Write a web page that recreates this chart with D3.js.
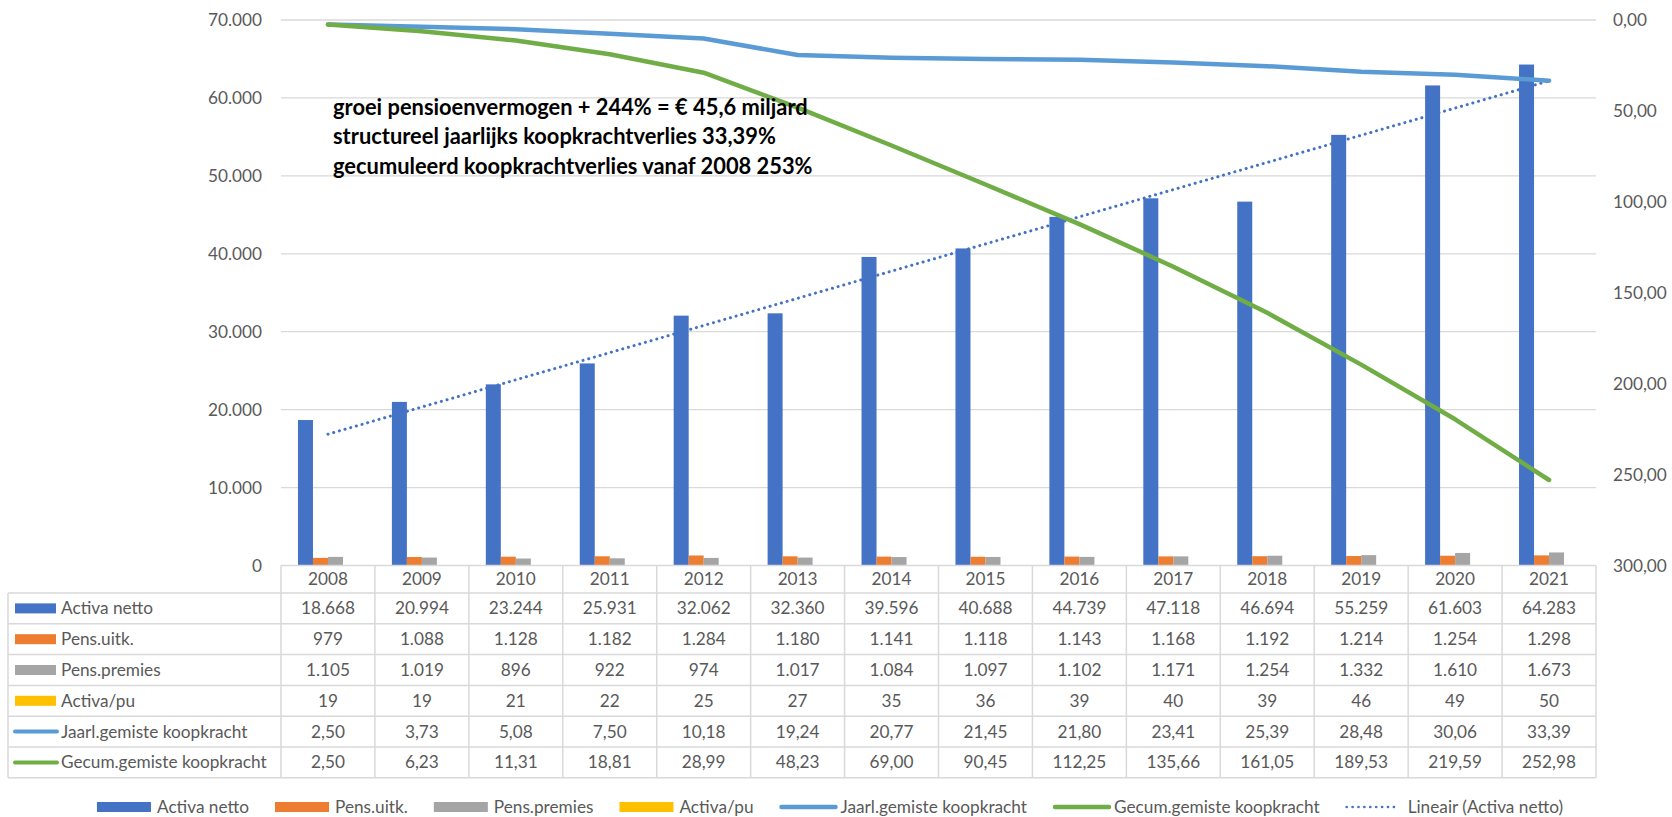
<!DOCTYPE html>
<html><head><meta charset="utf-8">
<script src="https://cdn.jsdelivr.net/npm/d3@7"></script>
<style>body{margin:0;background:#fff}</style>
</head><body><svg id="c" width="1672" height="817"></svg>
<script>
const years = [2008,2009,2010,2011,2012,2013,2014,2015,2016,2017,2018,2019,2020,2021];
const activaNetto = [18668,20994,23244,25931,32062,32360,39596,40688,44739,47118,46694,55259,61603,64283];
const pensUitk = [979,1088,1128,1182,1284,1180,1141,1118,1143,1168,1192,1214,1254,1298];
const pensPremies = [1105,1019,896,922,974,1017,1084,1097,1102,1171,1254,1332,1610,1673];
const activaPu = [19,19,21,22,25,27,35,36,39,40,39,46,49,50];
const jaarlKoopkracht = [2.50,3.73,5.08,7.50,10.18,19.24,20.77,21.45,21.80,23.41,25.39,28.48,30.06,33.39];
const gecumKoopkracht = [2.50,6.23,11.31,18.81,28.99,48.23,69.00,90.45,112.25,135.66,161.05,189.53,219.59,252.98];
const leftTicks = [0,10000,20000,30000,40000,50000,60000,70000];
const rightTicks = [0,50,100,150,200,250,300];
const annotation = [
  "groei pensioenvermogen + 244% = € 45,6 miljard",
  "structureel jaarlijks koopkrachtverlies 33,39%",
  "gecumuleerd koopkrachtverlies vanaf 2008 253%"
];
const seriesNames = ["Activa netto","Pens.uitk.","Pens.premies","Activa/pu","Jaarl.gemiste koopkracht","Gecum.gemiste koopkracht","Lineair (Activa netto)"];
const colors = ["#4472C4","#ED7D31","#A5A5A5","#FFC000","#5B9BD5","#70AD47","#4472C4"];

const nl = d3.formatLocale({decimal:",", thousands:".", grouping:[3], currency:["€",""]});
const fInt = nl.format(",d"), f2 = nl.format(",.2f");

const svg = d3.select("#c");
const F = "Lato, 'Open Sans', sans-serif";
const TXT = "#595959";
function fit(str, target, weight){
  const t = svg.append("text").attr("font-family",F).attr("font-weight",weight).attr("font-size",100).text(str);
  const w = t.node().getComputedTextLength(); t.remove(); return 100*target/w;
}
const fs = (fit("Gecum.gemiste koopkracht",213,400) + fit("2008",38.6,400))/2;
const fsB = fit(annotation[1],443,700);

const x = d3.scaleBand().domain(years).range([281,1596]);
const bw = x.bandwidth();
const xc = y => x(y) + bw/2;
const barKeys = [0,1,2,3];
const xs = d3.scaleBand().domain(barKeys).range([(bw-60)/2,(bw+60)/2]);
const yL = d3.scaleLinear().domain([0,70000]).range([565.5,20]);
const yR = d3.scaleLinear().domain([0,300]).range([20,565.5]);

// gridlines
svg.append("g").selectAll("line").data(leftTicks.slice(1)).join("line")
  .attr("x1",281).attr("x2",1596).attr("y1",d=>yL(d)).attr("y2",d=>yL(d))
  .attr("stroke","#D9D9D9").attr("stroke-width",1.3);

// axis labels
svg.append("g").selectAll("text").data(leftTicks).join("text")
  .attr("x",262).attr("y",d=>yL(d)).attr("dy","0.35em").attr("text-anchor","end")
  .attr("font-family",F).attr("font-size",fs).attr("fill",TXT).text(d=>fInt(d));
svg.append("g").selectAll("text").data(rightTicks).join("text")
  .attr("x",1613).attr("y",d=>yR(d)).attr("dy","0.35em").attr("text-anchor","start")
  .attr("font-family",F).attr("font-size",fs).attr("fill",TXT).text(d=>f2(d));

// bars
const barSeries = [activaNetto,pensUitk,pensPremies,activaPu];
barSeries.forEach((arr,k)=>{
  svg.append("g").selectAll("rect").data(years).join("rect")
    .attr("x",(d)=>x(d)+xs(k)).attr("width",xs.bandwidth())
    .attr("y",(d,i)=>yL(arr[i])).attr("height",(d,i)=>yL(0)-yL(arr[i]))
    .attr("fill",colors[k]);
});

// trendline (least squares of Activa netto)
const idx = years.map((d,i)=>i+1);
const mx = d3.mean(idx), my = d3.mean(activaNetto);
const slope = d3.sum(idx,(v,i)=>(v-mx)*(activaNetto[i]-my))/d3.sum(idx,v=>(v-mx)*(v-mx));
const icpt = my - slope*mx;
const trend = [years[0],years[years.length-1]].map((yv)=>({yr:yv,v:icpt+slope*(years.indexOf(yv)+1)}));
svg.append("path").datum(trend)
  .attr("d",d3.line().x(d=>xc(d.yr)).y(d=>yL(d.v)))
  .attr("fill","none").attr("stroke",colors[6]).attr("stroke-width",3)
  .attr("stroke-linecap","round").attr("stroke-dasharray","0.1 5.8");

// lines
const line = d3.line().x((d,i)=>xc(years[i])).y(d=>yR(d));
[[jaarlKoopkracht,4],[gecumKoopkracht,5]].forEach(([arr,k])=>{
  svg.append("path").datum(arr).attr("d",line).attr("fill","none")
    .attr("stroke",colors[k]).attr("stroke-width",4.5)
    .attr("stroke-linejoin","round").attr("stroke-linecap","round");
});

// annotation
svg.append("g").selectAll("text").data(annotation).join("text")
  .attr("x",333).attr("y",(d,i)=>107+i*29.5).attr("dy","0.35em")
  .attr("font-family",F).attr("font-weight",700).attr("font-size",fsB).attr("fill","#000").text(d=>d);

// data table
const tTop = 565.5, hBot = 593, rowH = 30.8, tLeft = 8, tRight = 1596;
const rows = [
  {name:seriesNames[0], vals:activaNetto.map(fInt), type:"rect", c:colors[0]},
  {name:seriesNames[1], vals:pensUitk.map(fInt), type:"rect", c:colors[1]},
  {name:seriesNames[2], vals:pensPremies.map(fInt), type:"rect", c:colors[2]},
  {name:seriesNames[3], vals:activaPu.map(fInt), type:"rect", c:colors[3]},
  {name:seriesNames[4], vals:jaarlKoopkracht.map(f2), type:"line", c:colors[4]},
  {name:seriesNames[5], vals:gecumKoopkracht.map(f2), type:"line", c:colors[5]}
];
const tBot = hBot + rows.length*rowH;
const tg = svg.append("g");
const bc = "#D9D9D9", bwid = 1.5;
tg.append("line").attr("x1",281).attr("x2",tRight).attr("y1",tTop).attr("y2",tTop).attr("stroke",bc).attr("stroke-width",bwid);
d3.range(rows.length+1).forEach(i=>{
  const yy = hBot + i*rowH;
  tg.append("line").attr("x1",tLeft).attr("x2",tRight).attr("y1",yy).attr("y2",yy).attr("stroke",bc).attr("stroke-width",bwid);
});
years.forEach(yv=>{
  tg.append("line").attr("x1",x(yv)).attr("x2",x(yv)).attr("y1",tTop).attr("y2",tBot).attr("stroke",bc).attr("stroke-width",bwid);
});
tg.append("line").attr("x1",tRight).attr("x2",tRight).attr("y1",tTop).attr("y2",tBot).attr("stroke",bc).attr("stroke-width",bwid);
tg.append("line").attr("x1",tLeft).attr("x2",tLeft).attr("y1",hBot).attr("y2",tBot).attr("stroke",bc).attr("stroke-width",bwid);
tg.selectAll("text.h").data(years).join("text").attr("class","h")
  .attr("x",d=>xc(d)).attr("y",(tTop+hBot)/2).attr("dy","0.35em").attr("text-anchor","middle")
  .attr("font-family",F).attr("font-size",fs).attr("fill",TXT).text(d=>d);
rows.forEach((r,ri)=>{
  const cy = hBot + ri*rowH + rowH/2;
  if(r.type==="rect") tg.append("rect").attr("x",15).attr("y",cy-5).attr("width",41).attr("height",10).attr("fill",r.c);
  else tg.append("line").attr("x1",15).attr("x2",57).attr("y1",cy).attr("y2",cy).attr("stroke",r.c).attr("stroke-width",4).attr("stroke-linecap","round");
  tg.append("text").attr("x",61).attr("y",cy).attr("dy","0.35em").attr("font-family",F).attr("font-size",fs).attr("fill",TXT).text(r.name);
  r.vals.forEach((v,i)=>{
    tg.append("text").attr("x",xc(years[i])).attr("y",cy).attr("dy","0.35em").attr("text-anchor","middle")
      .attr("font-family",F).attr("font-size",fs).attr("fill",TXT).text(v);
  });
});

// legend
const lg = svg.append("g");
const ly = 807;
const types = ["rect","rect","rect","rect","line","line","dot"];
let cx = 0;
seriesNames.forEach((n,i)=>{
  const g = lg.append("g");
  if(types[i]==="rect") g.append("rect").attr("x",0).attr("y",ly-5).attr("width",54).attr("height",10).attr("fill",colors[i]);
  else if(types[i]==="line") g.append("line").attr("x1",2).attr("x2",56).attr("y1",ly).attr("y2",ly).attr("stroke",colors[i]).attr("stroke-width",4.5).attr("stroke-linecap","round");
  else g.append("line").attr("x1",1).attr("x2",54).attr("y1",ly).attr("y2",ly).attr("stroke",colors[i]).attr("stroke-width",2.6).attr("stroke-linecap","round").attr("stroke-dasharray","0.1 5.8");
  const tx = types[i]==="dot"?62:(types[i]==="line"?61:60);
  const t = g.append("text").attr("x",tx).attr("y",ly).attr("dy","0.35em")
    .attr("font-family",F).attr("font-size",fs).attr("fill",TXT).text(n);
  const w = tx + t.node().getComputedTextLength();
  g.attr("transform",`translate(${cx},0)`);
  cx += w + 26;
});
const total = cx - 26;
lg.attr("transform",`translate(${830 - total/2},0)`);
</script></body></html>
